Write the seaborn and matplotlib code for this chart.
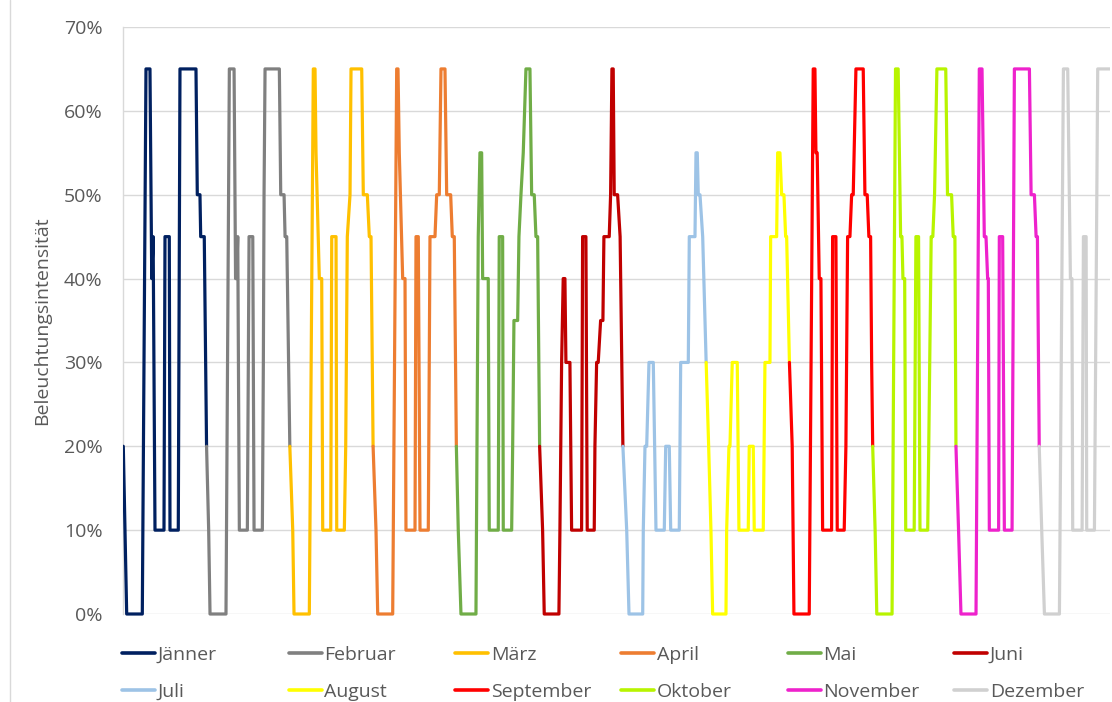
import matplotlib
matplotlib.use("Agg")
import matplotlib.pyplot as plt
import numpy as np
import pandas as pd
import seaborn as sns
from matplotlib.lines import Line2D
from matplotlib.ticker import PercentFormatter
from matplotlib.transforms import Bbox, TransformedBbox

# ---------------- data (hour of day within each month, intensity in %) ----------------
months = ["Jänner", "Februar", "März", "April", "Mai", "Juni",
          "Juli", "August", "September", "Oktober", "November", "Dezember"]
colors = ["#002060", "#808080", "#FFC000", "#ED7D31", "#70AD47", "#C00000",
          "#9DC3E6", "#FFFF00", "#FF0000", "#B8F400", "#EE22CC", "#D0D0D0"]

jan_h = [0, 0.49, 0.98, 5.48, 6.54, 7.69, 8.2, 8.6, 9.14, 11.73, 12.02, 13.26, 13.46, 15.85, 16.34, 20.95, 21.33, 22.1, 22.31, 23.34, 24.0]
jan_v = [20, 10, 0, 0, 65, 65, 40, 45, 10, 10, 45, 45, 10, 10, 65, 65, 50, 50, 45, 45, 20]

feb_h = [0, 0.61, 1.0, 5.6, 6.57, 7.93, 8.36, 8.65, 8.99, 9.45, 11.76, 12.25, 13.32, 13.69, 16.08, 16.37, 16.57, 16.86, 20.98, 21.38, 22.34, 22.63, 23.11, 24.0]
feb_v = [20, 10, 0, 0, 65, 65, 40, 40, 45, 10, 10, 45, 45, 10, 10, 30, 50, 65, 65, 50, 50, 45, 45, 20]

mar_h = [0, 0.84, 1.21, 5.62, 6.77, 7.26, 7.55, 8.5, 9.19, 9.48, 11.79, 12.08, 13.32, 13.52, 15.71, 16.11, 16.57, 17.35, 17.64, 20.72, 21.18, 22.34, 22.91, 23.4, 24.0]
mar_v = [20, 10, 0, 0, 65, 65, 55, 40, 40, 10, 10, 45, 45, 10, 10, 20, 45, 50, 65, 65, 50, 50, 45, 45, 20]

apr_h = [0, 0.84, 1.33, 5.65, 6.8, 7.18, 7.55, 8.53, 9.2, 9.48, 12.08, 12.37, 13.03, 13.52, 15.91, 16.4, 17.84, 18.33, 19.08, 19.57, 20.72, 21.21, 22.36, 22.83, 23.4, 24.0]
apr_v = [20, 10, 0, 0, 65, 65, 55, 40, 40, 10, 10, 45, 45, 10, 10, 45, 45, 50, 50, 65, 65, 50, 50, 45, 45, 20]

mai_h = [0, 0.55, 1.33, 5.65, 6.31, 6.8, 7.29, 7.58, 9.19, 9.48, 12.08, 12.36, 13.34, 13.52, 15.94, 16.23, 16.6, 17.67, 18.04, 18.62, 19.28, 20.06, 21.21, 21.7, 22.45, 22.94, 23.43, 24.0]
mai_v = [20, 10, 0, 0, 45, 55, 55, 40, 40, 10, 10, 45, 45, 10, 10, 20, 35, 35, 45, 50, 55, 65, 65, 50, 50, 45, 45, 20]

jun_h = [0, 0.86, 1.33, 5.56, 5.85, 6.34, 6.8, 7.29, 7.58, 8.73, 9.22, 12.1, 12.39, 13.34, 13.72, 15.74, 15.94, 16.43, 16.89, 17.58, 18.24, 18.53, 20.06, 20.46, 20.84, 21.21, 21.5, 22.48, 23.2, 24.0]
jun_v = [20, 10, 0, 0, 10, 30, 40, 40, 30, 30, 10, 10, 45, 45, 10, 10, 20, 30, 30, 35, 35, 45, 45, 50, 65, 65, 50, 50, 45, 20]

jul_h = [0, 1.1, 1.76, 5.71, 5.88, 6.37, 6.86, 7.52, 8.76, 9.54, 11.93, 12.34, 13.37, 13.78, 16.25, 16.66, 18.85, 19.14, 20.78, 21.07, 21.44, 21.73, 22.22, 23.0, 24.0]
jul_v = [20, 10, 0, 0, 10, 20, 20, 30, 30, 10, 10, 20, 20, 10, 10, 30, 30, 45, 45, 55, 55, 50, 50, 45, 30]

aug_h = [0, 0.72, 1.38, 1.87, 5.71, 5.91, 6.57, 6.86, 7.52, 8.96, 9.45, 12.13, 12.42, 13.57, 13.86, 16.46, 16.95, 18.39, 18.59, 20.32, 20.61, 21.27, 21.76, 22.42, 22.91, 23.2, 24.0]
aug_v = [30, 20, 10, 0, 0, 10, 20, 20, 30, 30, 10, 10, 20, 20, 10, 10, 30, 30, 45, 45, 55, 55, 50, 50, 45, 45, 30]

sep_h = [0, 0.8, 1.3, 5.71, 6.86, 7.35, 7.64, 8.0, 8.59, 9.08, 9.57, 12.16, 12.45, 13.4, 13.78, 15.79, 16.28, 16.77, 17.44, 17.93, 18.39, 19.17, 21.27, 21.76, 22.42, 22.9, 23.4, 23.7, 24.0]
sep_v = [30, 20, 0, 0, 65, 65, 55, 55, 40, 40, 10, 10, 45, 45, 10, 10, 20, 45, 45, 50, 50, 65, 65, 50, 50, 45, 45, 30, 20]

okt_h = [0, 0.7, 1.18, 5.58, 6.58, 7.34, 8.05, 8.43, 8.72, 9.22, 9.52, 11.96, 12.46, 13.22, 13.63, 15.86, 16.16, 16.86, 17.33, 17.83, 18.51, 21.06, 21.56, 22.74, 23.21, 23.7, 24.0]
okt_v = [20, 10, 0, 0, 65, 65, 45, 45, 40, 40, 10, 10, 45, 45, 10, 10, 20, 45, 45, 50, 65, 65, 50, 50, 45, 45, 20]

nov_h = [0, 0.75, 1.44, 5.78, 6.73, 7.51, 8.17, 8.66, 9.13, 9.33, 9.62, 12.3, 12.5, 13.46, 13.95, 16.17, 16.84, 21.17, 21.66, 22.61, 23.1, 23.48, 24.0]
nov_v = [20, 10, 0, 0, 65, 65, 45, 45, 40, 40, 10, 10, 45, 45, 10, 10, 65, 65, 50, 50, 45, 45, 20]

dez_h = [0, 0.72, 1.5, 5.82, 6.97, 8.21, 8.99, 9.42, 9.65, 12.36, 12.74, 13.52, 13.69, 15.91, 16.86, 21.0]
dez_v = [20, 10, 0, 0, 65, 65, 40, 40, 10, 10, 45, 45, 10, 10, 65, 65]

hours = [jan_h, feb_h, mar_h, apr_h, mai_h, jun_h, jul_h, aug_h, sep_h, okt_h, nov_h, dez_h]
values = [jan_v, feb_v, mar_v, apr_v, mai_v, jun_v, jul_v, aug_v, sep_v, okt_v, nov_v, dez_v]
y_ticks = [0, 10, 20, 30, 40, 50, 60, 70]
y_label = "Beleuchtungsintensität"

# ---------------- build long table ----------------
rows = []
for i, (m, hs, vs) in enumerate(zip(months, hours, values)):
    for h, v in zip(hs, vs):
        rows.append({"t": 24 * i + h, "v": v, "Monat": m})
df = pd.DataFrame(rows)

# ---------------- style ----------------
sns.set_theme(style="white")
plt.rcParams["font.family"] = ["Open Sans", "DejaVu Sans"]
txt_col = "#595959"
grid_col = "#D9D9D9"
FS = 14

W, H = 1112, 702
fig = plt.figure(figsize=(W / 100, H / 100), dpi=100)
ax = fig.add_axes([122.7 / W, 1 - 614 / H, (1110 - 122.7) / W, (614 - 27) / H])

palette = dict(zip(months, colors))
sns.lineplot(data=df, x="t", y="v", hue="Monat", hue_order=months, palette=palette,
             estimator=None, sort=False, linewidth=2.3, ax=ax, legend=True, zorder=3)

xmin, xmax = -0.17, 284.4
ax.set_xlim(xmin, xmax)
ax.set_ylim(0, 70)

# let lines on 0% show fully, but still cut at right edge
clip = TransformedBbox(Bbox([[xmin, -5], [xmax, 75]]), ax.transData)
for ln in ax.lines:
    ln.set_clip_box(clip)

ax.set_yticks(y_ticks)
ax.yaxis.set_major_formatter(PercentFormatter(100, decimals=0))
ax.set_xticks([])
ax.tick_params(axis="y", length=0, pad=14.4, labelsize=FS, labelcolor=txt_col)
ax.grid(axis="y", color=grid_col, linewidth=1.0, zorder=0)
ax.set_axisbelow(True)
for s in ["top", "right", "bottom"]:
    ax.spines[s].set_visible(False)
ax.spines["left"].set_color(grid_col)
ax.spines["left"].set_linewidth(1.0)

ax.set_xlabel("")
ax.set_ylabel(y_label, fontsize=FS, color=txt_col)
ax.yaxis.set_label_coords((51 - 122.7) / (1110 - 122.7), 0.5)

# ---------------- legend: 6 columns x 2 rows ----------------
ax.get_legend().remove()
col_x = [122, 288.5, 455, 621, 787.5, 954]
for c in range(6):
    top_m = months[c]
    bot_m = months[c + 6]
    hs_ = [Line2D([], [], color=palette[top_m], lw=2.6), Line2D([], [], color=palette[bot_m], lw=2.6)]
    fig.legend(hs_, [top_m, bot_m], loc="upper left",
               bbox_to_anchor=(col_x[c] / W, 1 - 646 / H),
               frameon=False, fontsize=FS, labelcolor=txt_col,
               handlelength=33 / 19.4, handletextpad=0.15,
               borderpad=0, borderaxespad=0, labelspacing=0.96)

# chart-area left border
fig.add_artist(Line2D([10 / W, 10 / W], [0, 1], color=grid_col, lw=1.0, transform=fig.transFigure))

fig.savefig("out.png", dpi=100)
